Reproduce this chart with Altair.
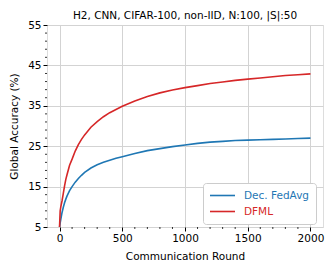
import altair as alt
import pandas as pd

rounds = [0, 5, 10, 20, 30, 40, 50, 60, 80, 100, 125, 150, 175, 200, 250, 300, 350, 400, 450, 500,
          600, 700, 800, 900, 1000, 1100, 1200, 1300, 1400, 1500, 1600, 1700, 1800, 1900, 2000]
dfml = [5.0, 9.0, 10.0, 11.5, 13.3, 15.2, 16.8, 18.0, 20.3, 21.8, 23.8, 25.4, 26.7, 27.8, 29.7, 31.1, 32.3, 33.3, 34.1, 34.9,
        36.2, 37.3, 38.2, 38.9, 39.5, 40.0, 40.5, 40.9, 41.3, 41.6, 41.9, 42.2, 42.5, 42.7, 42.9]
fedavg = [5.0, 6.0, 6.9, 8.6, 9.9, 11.0, 11.9, 12.7, 14.0, 15.0, 16.1, 17.0, 17.8, 18.5, 19.6, 20.4, 21.0, 21.5, 22.0, 22.4,
          23.2, 23.9, 24.4, 24.9, 25.3, 25.7, 26.0, 26.2, 26.4, 26.5, 26.6, 26.7, 26.8, 26.9, 27.0]
series = ["Dec. FedAvg", "DFML"]
colors = ["#1f77b4", "#d62728"]
x_major = [0, 500, 1000, 1500, 2000]
x_minor = [v for v in range(100, 2000, 100) if v % 500 != 0]
y_major = [5, 15, 25, 35, 45, 55]
y_minor = [v for v in range(7, 55, 2) if v not in y_major]

W, H = 276, 202
FONT = "DejaVu Sans"

df = pd.concat([
    pd.DataFrame({"round": rounds, "acc": fedavg, "method": series[0]}),
    pd.DataFrame({"round": rounds, "acc": dfml, "method": series[1]}),
])

xscale = alt.Scale(domain=[-100, 2100], nice=False, zero=False)
yscale = alt.Scale(domain=[5, 55], nice=False, zero=False)

lines = alt.Chart(df).mark_line(strokeWidth=1.6, clip=True).encode(
    x=alt.X("round:Q", scale=xscale,
            axis=alt.Axis(title="Communication Round", values=x_major, format="d",
                          grid=True, gridColor="#d3d3d3", tickSize=4, tickColor="black",
                          labelFontSize=10.5, titleFontSize=10.5, labelColor="black",
                          titleColor="black", titleFontWeight="normal", labelPadding=2,
                          titlePadding=8, domain=False, labelFont=FONT, titleFont=FONT)),
    y=alt.Y("acc:Q", scale=yscale,
            axis=alt.Axis(title="Global Accuracy (%)", values=y_major,
                          grid=True, gridColor="#d3d3d3", tickSize=4, tickColor="black",
                          labelFontSize=10.5, titleFontSize=10.5, labelColor="black",
                          titleColor="black", titleFontWeight="normal", labelPadding=2,
                          titlePadding=8, domain=False, labelFont=FONT, titleFont=FONT)),
    color=alt.Color("method:N", sort=series,
                    scale=alt.Scale(domain=series, range=colors),
                    legend=alt.Legend(title=None, orient="none", legendX=156, legendY=158,
                                      symbolType="stroke", symbolSize=625, symbolStrokeWidth=1.6,
                                      clipHeight=13, rowPadding=3,
                                      labelFontSize=10.5, labelFont=FONT, labelOffset=8,
                                      labelColor={"expr": "datum.label == 'DFML' ? '#d62728' : '#1f77b4'"},
                                      strokeColor="#cccccc", fillColor="white", cornerRadius=3,
                                      padding=6)),
)

xminor = alt.Chart(pd.DataFrame({"v": x_minor})).mark_rule(color="black", strokeWidth=0.8, clip=False).encode(
    x=alt.X("v:Q", scale=xscale), y=alt.value(H), y2=alt.value(H + 2))
yminor = alt.Chart(pd.DataFrame({"v": y_minor})).mark_rule(color="black", strokeWidth=0.8, clip=False).encode(
    y=alt.Y("v:Q", scale=yscale), x=alt.value(0), x2=alt.value(-2))

chart = alt.layer(lines, xminor, yminor).properties(
    width=W, height=H,
    title=alt.TitleParams("H2, CNN, CIFAR-100, non-IID, N:100, |S|:50", fontSize=10.5,
                          font=FONT, fontWeight="normal", color="black", anchor="middle",
                          frame="group", offset=6, dy=7),
    autosize=alt.AutoSizeParams(type="none"),
    padding={"left": 39, "top": 17, "right": 4, "bottom": 36},
).configure_view(stroke="black", strokeWidth=1).configure(background="white")

chart.save("out.html", embed_options={"renderer": "svg", "actions": False})
